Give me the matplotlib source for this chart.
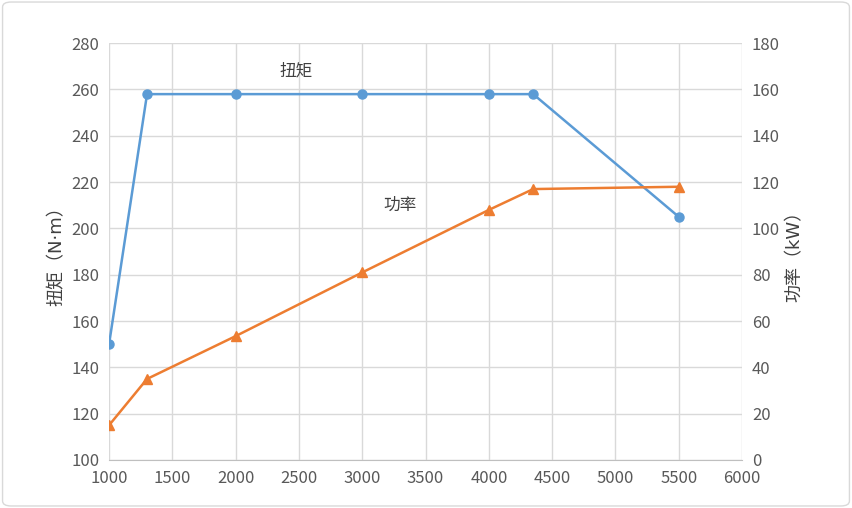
import matplotlib
matplotlib.use("Agg")
import matplotlib.pyplot as plt
from matplotlib.patches import FancyBboxPatch

plt.rcParams['font.family'] = ['Noto Sans CJK SC', 'DejaVu Sans']

rpm = [1000, 1300, 2000, 3000, 4000, 4350, 5500]
torque = [150, 258, 258, 258, 258, 258, 205]
power = [15, 35, 53.5, 81, 108, 117, 118]

blue = '#5B9BD5'
orange = '#ED7D31'
txt = '#595959'

fig = plt.figure(figsize=(8.52, 5.08), dpi=100)
fig.patches.append(FancyBboxPatch((0.003, 0.004), 0.994, 0.992, boxstyle='round,pad=0,rounding_size=0.01',
                                  transform=fig.transFigure, fill=False, edgecolor='#D9D9D9', lw=1))
ax = fig.add_axes([0.128, 0.0945, 0.743, 0.8205])
ax2 = ax.twinx()

ax.plot(rpm, torque, color=blue, lw=1.8, marker='o', ms=6.5, zorder=3)
ax2.plot(rpm, power, color=orange, lw=1.8, marker='^', ms=7, zorder=3)

ax.set_xlim(1000, 6000)
ax.set_ylim(100, 280)
ax2.set_ylim(0, 180)
ax.set_xticks(range(1000, 6001, 500))
ax.set_yticks(range(100, 281, 20))
ax2.set_yticks(range(0, 181, 20))
ax.grid(True, color='#D9D9D9', lw=1)
ax.set_axisbelow(True)

for a in (ax, ax2):
    for s in a.spines.values():
        s.set_visible(False)
    a.tick_params(length=0, labelsize=12, colors=txt, pad=7)
ax.spines['bottom'].set_visible(True)
ax.spines['bottom'].set_color('#BFBFBF')

lab_font = ['DejaVu Sans', 'Noto Sans CJK SC']
ax.set_ylabel('扭矩（N·m）', fontsize=13, color='#404040', family=lab_font)
ax2.set_ylabel('功率（kW）', fontsize=13, color='#404040', family=lab_font)

ax.text(2480, 268, '扭矩', fontsize=12, color='#404040', ha='center', va='center')
ax.text(3300, 210, '功率', fontsize=12, color='#404040', ha='center', va='center')

fig.savefig('out.png', dpi=100)
